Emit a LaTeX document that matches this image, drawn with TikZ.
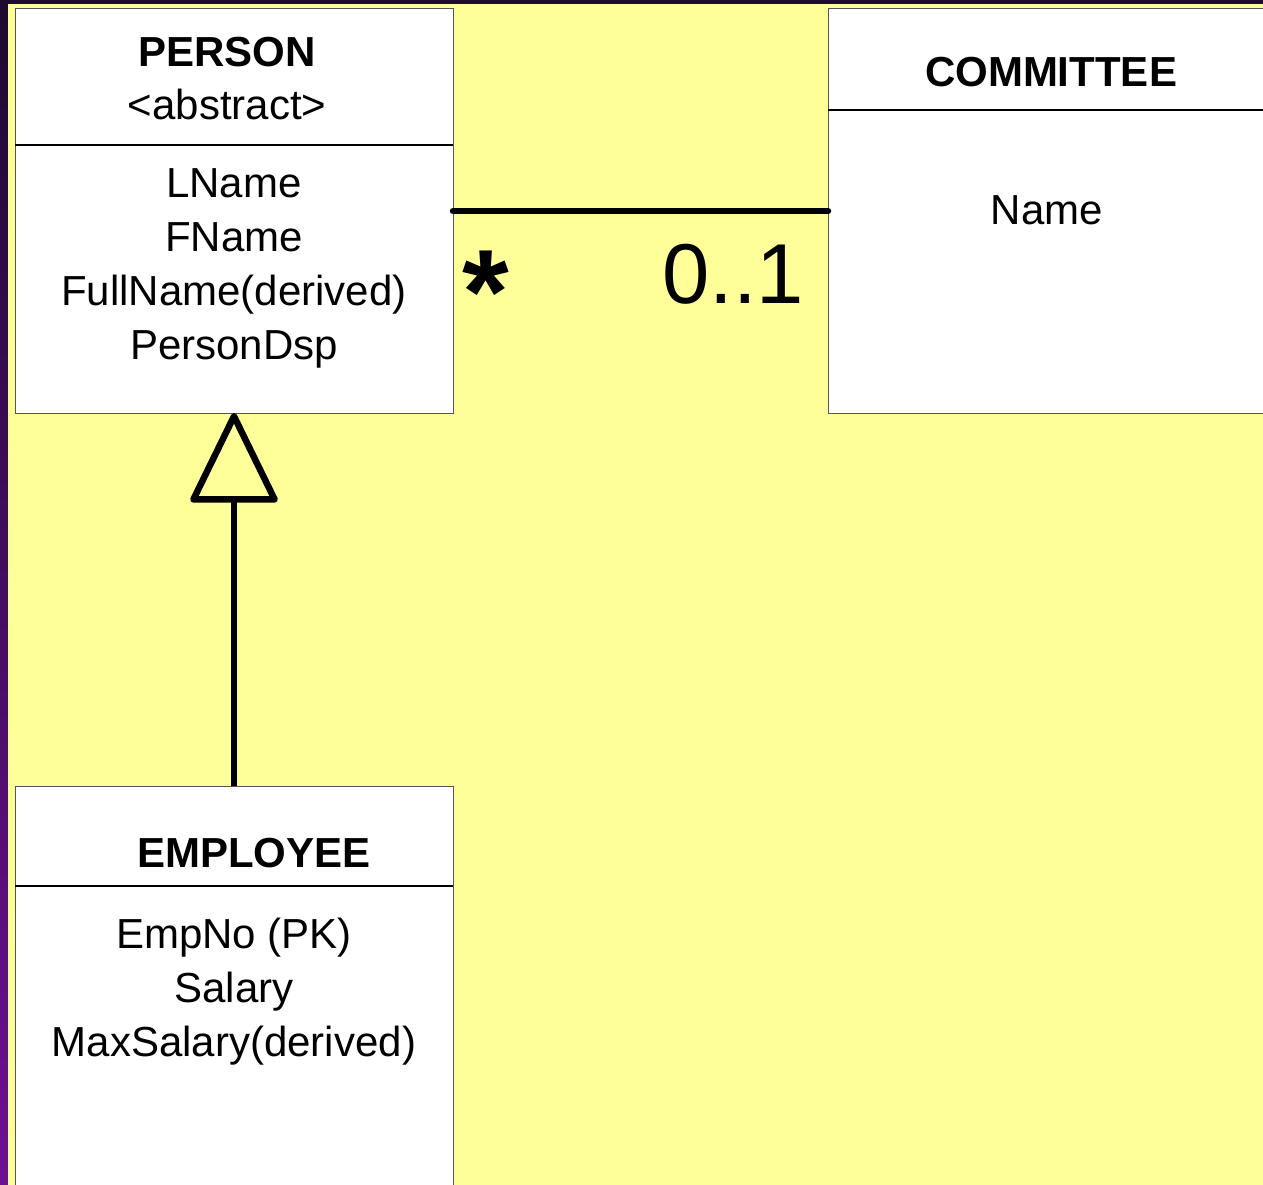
\documentclass[tikz,border=0pt]{standalone}
\usepackage{fontspec}
\setmainfont{Liberation Sans}
\usetikzlibrary{arrows.meta}
\definecolor{bgyellow}{HTML}{FFFF99}
\definecolor{darktop}{HTML}{1C0A30}
\definecolor{darkbot}{HTML}{6E1092}
\definecolor{boxline}{HTML}{555555}
\begin{document}
\begin{tikzpicture}[x=1pt,y=-1pt,
  classbox/.style={draw=boxline, line width=1pt, fill=white, minimum height=404pt, inner sep=0pt, outer sep=0pt},
  divider/.style={line width=2.2pt, black},
  title/.style={font=\fontsize{42}{50}\selectfont\bfseries, anchor=base, inner sep=0pt},
  attr/.style={font=\fontsize{42}{50}\selectfont, anchor=base, inner sep=0pt},
  assoc/.style={line width=6.5pt, line cap=round},
  gen/.style={line width=6.5pt, -{Triangle[open, length=94pt, width=90pt, round]}}]
\useasboundingbox (0,0) rectangle (1263,1185);
% background
\shade[top color=darktop, bottom color=darkbot] (0,0) rectangle (1263,1185);
\fill[bgyellow] (8,4) rectangle (1263,1185);
% class boxes
\node[classbox, minimum width=438pt] (person) at (234,211) {};
\node[classbox, minimum width=442pt] (committee) at (1049,211) {};
\node[classbox, minimum width=438pt] (employee) at (234,988) {};
% dividers
\coordinate (pdiv) at (0,145);
\coordinate (cdiv) at (0,110);
\coordinate (ediv) at (0,886);
\draw[divider] (person.west |- pdiv) -- (person.east |- pdiv);
\draw[divider] (committee.west |- cdiv) -- (committee.east |- cdiv);
\draw[divider] (employee.west |- ediv) -- (employee.east |- ediv);
% texts
\node[title] (ptitle) at (227,67) {PERSON};
\node[attr] (pabs) at (227,120) {<abstract>};
\node[attr] (pa1) at (234,197) {LName};
\node[attr] (pa2) at (234,251) {FName};
\node[attr] (pa3) at (234,305) {FullName(derived)};
\node[attr] (pa4) at (234,359) {PersonDsp};
\node[title] (ctitle) at (1051,87) {COMMITTEE};
\node[attr] (ca1) at (1047,225) {Name};
\node[title] (etitle) at (254,867) {EMPLOYEE};
\node[attr] (ea1) at (234,948) {EmpNo (PK)};
\node[attr] (ea2) at (234,1002) {Salary};
\node[attr] (ea3) at (234,1056) {MaxSalary(derived)};
% connectors
\draw[assoc] (person.east) -- (committee.west);
\draw[gen] (employee.north) -- (person.south);
% multiplicities
\node[anchor=base, inner sep=0pt, font=\fontsize{120}{130}\selectfont\bfseries] (mstar) at (486,333) {*};
\node[anchor=base, inner sep=0pt, font=\fontsize{85}{100}\selectfont] (mone) at (733,303) {0..1};
\end{tikzpicture}
\end{document}
